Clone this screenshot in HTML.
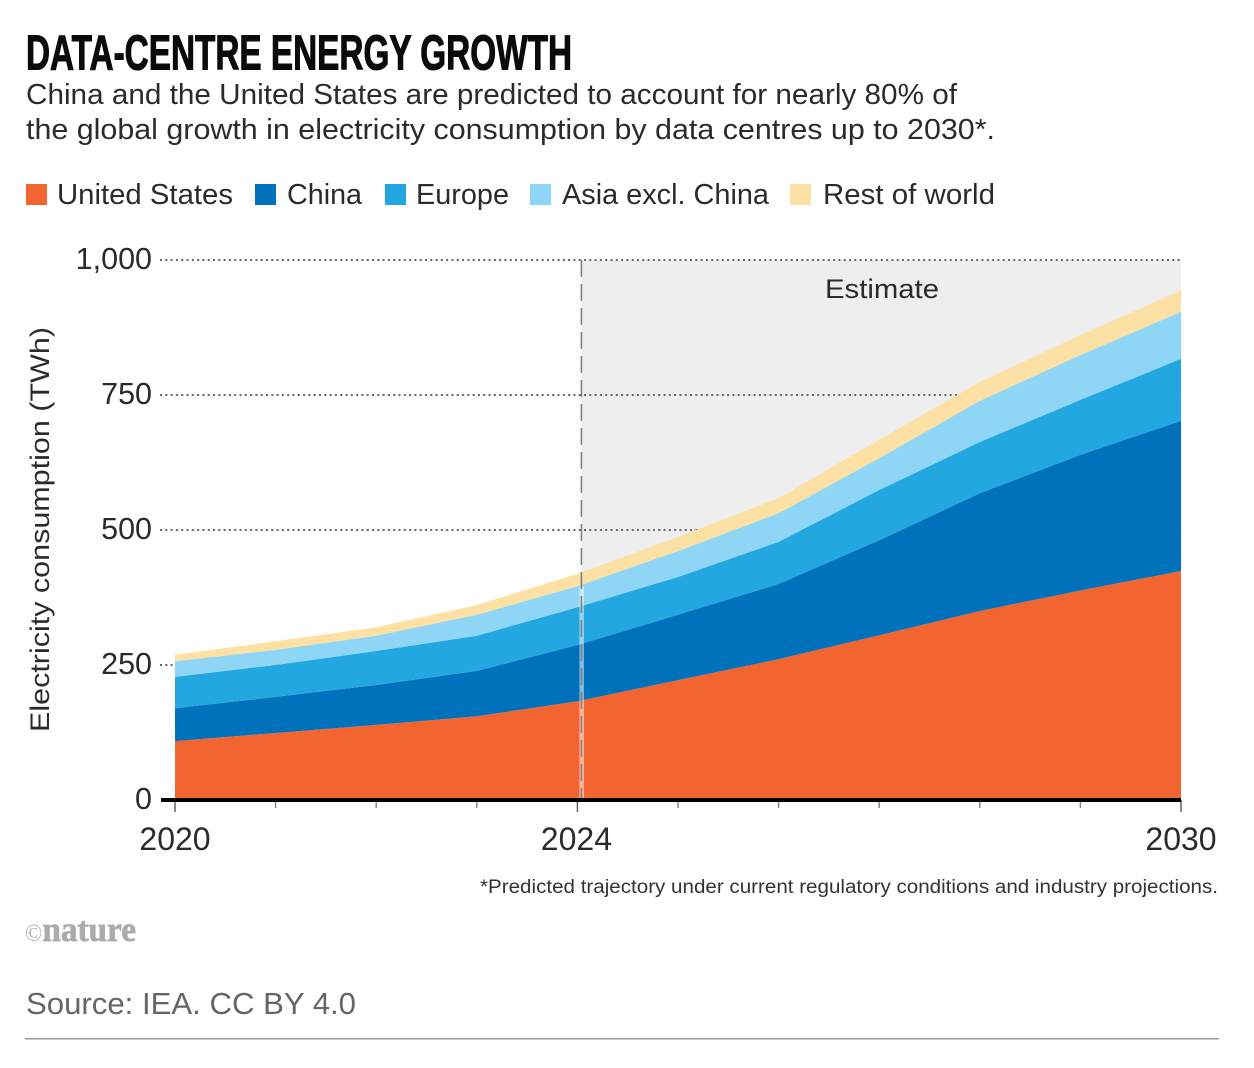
<!DOCTYPE html>
<html lang="en">
<head>
<meta charset="utf-8">
<title>Data-centre energy growth</title>
<style>
html,body{margin:0;padding:0;background:#fff;width:1254px;height:1068px;overflow:hidden}
svg{display:block;font-family:"Liberation Sans",sans-serif}
</style>
</head>
<body>
<svg id="chart" xmlns="http://www.w3.org/2000/svg" width="1254" height="1068" viewBox="0 0 1254 1068">
  <text x="26" y="69.5" font-size="49" font-weight="700" fill="#0b0b0b" stroke="#0b0b0b" stroke-width="1.1" textLength="546" lengthAdjust="spacingAndGlyphs">DATA-CENTRE ENERGY GROWTH</text>
  <text x="26" y="104" font-size="29" fill="#2b2b2b" textLength="931" lengthAdjust="spacingAndGlyphs">China and the United States are predicted to account for nearly 80% of</text>
  <text x="26" y="139" font-size="29" fill="#2b2b2b" textLength="969" lengthAdjust="spacingAndGlyphs">the global growth in electricity consumption by data centres up to 2030*.</text>

  <g font-size="29" fill="#2b2b2b">
    <rect x="26" y="184" width="21" height="21" fill="#F26531"/>
    <text x="57" y="204" textLength="176" lengthAdjust="spacingAndGlyphs">United States</text>
    <rect x="255" y="184" width="21" height="21" fill="#0072BC"/>
    <text x="287" y="204" textLength="75" lengthAdjust="spacingAndGlyphs">China</text>
    <rect x="385" y="184" width="21" height="21" fill="#22A7E0"/>
    <text x="416" y="204" textLength="93" lengthAdjust="spacingAndGlyphs">Europe</text>
    <rect x="530" y="184" width="21" height="21" fill="#8FD6F6"/>
    <text x="562" y="204" textLength="207" lengthAdjust="spacingAndGlyphs">Asia excl. China</text>
    <rect x="790" y="184" width="21" height="21" fill="#FDE0A3"/>
    <text x="823" y="204" textLength="172" lengthAdjust="spacingAndGlyphs">Rest of world</text>
  </g>

  <g id="plot"></g>

  <text transform="translate(49 732) rotate(-90)" font-size="26.5" fill="#2b2b2b" textLength="405" lengthAdjust="spacingAndGlyphs">Electricity consumption (TWh)</text>

  <text x="480" y="893" font-size="19" fill="#333" textLength="738" lengthAdjust="spacingAndGlyphs">*Predicted trajectory under current regulatory conditions and industry projections.</text>
  <text x="25" y="941" font-family="'Liberation Serif',serif" font-size="35" font-weight="700" fill="#a9abad" stroke="#a9abad" stroke-width="0.7" textLength="111" lengthAdjust="spacingAndGlyphs"><tspan font-size="24" font-weight="400" stroke-width="0">©</tspan>nature</text>
  <text x="26" y="1014" font-size="31" fill="#666" textLength="330" lengthAdjust="spacingAndGlyphs">Source: IEA. CC BY 4.0</text>
  <rect x="25" y="1038" width="1194" height="1.5" fill="#999"/>
</svg>
<script>
var years = [2020, 2021, 2022, 2023, 2024, 2025, 2026, 2027, 2028, 2029, 2030];
var unitedStates = [109, 124, 139, 155, 183, 222, 261, 305, 350, 388, 424];
var china = [61, 67, 74, 84, 104, 121, 139, 176, 218, 251, 278];
var europe = [58, 59, 63, 65, 70, 70, 78, 93, 95, 102, 115];
var asiaExclChina = [29, 28, 28, 39, 39, 48, 53, 59, 76, 83, 87];
var restOfWorld = [12, 16, 16, 18, 23, 26, 28, 34, 35, 37, 40];
var yTicks = [0, 250, 500, 750, 1000];
var yTickLabels = ['0', '250', '500', '750', '1,000'];
var xTickLabels = ['2020', '2024', '2030'];
var labelledYears = [2020, 2024, 2030];
var estimateStartYear = 2024.04;
var estimateLabel = 'Estimate';

var svgNS = 'http://www.w3.org/2000/svg';
var plot = document.getElementById('plot');

function x(year) { return 175 + (year - 2020) * 100.6; }
function y(value) { return 800 - value * 0.54; }

function make(tag, attrs) {
  var el = document.createElementNS(svgNS, tag);
  for (var k in attrs) { el.setAttribute(k, attrs[k]); }
  plot.appendChild(el);
  return el;
}

// Estimate shading
var shade = make('rect', { x: x(estimateStartYear), y: y(1000), width: x(2030) - x(estimateStartYear), height: y(0) - y(1000), fill: '#EEEEEE' });



// Gridlines
yTicks.forEach(function (tick, i) {
  if (tick > 0) {
    var grid = make('line', { x1: 160, x2: x(2030) + 2, y1: y(tick), y2: y(tick), stroke: '#666', 'stroke-width': 2, 'stroke-dasharray': '2 3.3' });
    
    
  }
  var lab = make('text', { x: 152, y: y(tick) + 9, 'text-anchor': 'end', 'font-size': 30.5, fill: '#2b2b2b' });
  
  
  lab.textContent = yTickLabels[i];
});

// Stacked areas
var seriesList = [unitedStates, china, europe, asiaExclChina, restOfWorld];
var seriesColors = ['#F26531', '#0072BC', '#22A7E0', '#8FD6F6', '#FDE0A3'];
var seriesNames = ['area-united-states', 'area-china', 'area-europe', 'area-asia-excl-china', 'area-rest-of-world'];
var base = years.map(function () { return 0; });
seriesList.forEach(function (values, s) {
  var top = base.map(function (b, i) { return b + values[i]; });
  var pts = [];
  years.forEach(function (yr, i) { pts.push(x(yr).toFixed(1) + ',' + y(top[i]).toFixed(1)); });
  for (var i = years.length - 1; i >= 0; i--) { pts.push(x(years[i]).toFixed(1) + ',' + y(base[i]).toFixed(1)); }
  var area = make('polygon', { points: pts.join(' '), fill: seriesColors[s] });
  
  
  base = top;
});

// Estimate divider with white halo over the areas
var idx2024 = years.indexOf(2024);
var total2024 = unitedStates[idx2024] + china[idx2024] + europe[idx2024] + asiaExclChina[idx2024];
var halo = make('rect', { x: x(estimateStartYear) - 2, y: y(total2024), width: 4.5, height: y(0) - y(total2024), fill: '#fff', opacity: 0.5 });


var divider = make('line', { x1: x(estimateStartYear), x2: x(estimateStartYear), y1: y(1000), y2: y(0), stroke: '#808080', 'stroke-width': 1.6, 'stroke-dasharray': '17 7' });



var est = make('text', { x: 825, y: 298, 'font-size': 27, fill: '#2b2b2b', textLength: 114, lengthAdjust: 'spacingAndGlyphs' });


est.textContent = estimateLabel;

// X ticks
years.forEach(function (yr) {
  var major = labelledYears.indexOf(yr) >= 0;
  var t = make('line', { x1: x(yr), x2: x(yr), y1: y(0), y2: y(0) + (major ? 12 : 8), stroke: major ? '#666' : '#888', 'stroke-width': 1.5 });
  
  
});
labelledYears.forEach(function (yr, i) {
  var lab = make('text', { x: x(yr) + (yr === 2024 ? -1 : 0), y: 850, 'text-anchor': 'middle', 'font-size': 32, fill: '#2b2b2b' });
  
  
  lab.textContent = xTickLabels[i];
});

// Baseline
var axis = make('line', { x1: 161, x2: x(2030), y1: y(0), y2: y(0), stroke: '#000', 'stroke-width': 4 });


</script>
</body>
</html>
